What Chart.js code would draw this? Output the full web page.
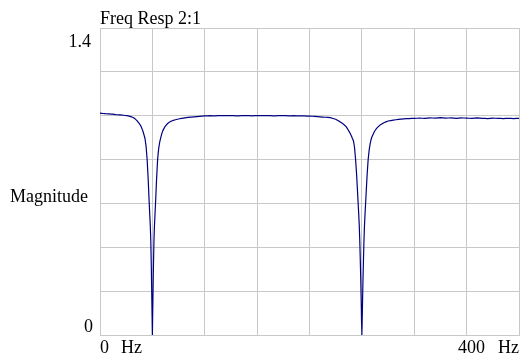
<!DOCTYPE html>
<html>
<head>
<meta charset="utf-8">
<script src="https://cdn.jsdelivr.net/npm/chart.js@4/dist/chart.umd.min.js"></script>
<style>
	html, body { margin: 0; padding: 0; background: #fff; }
	#wrap { width: 521px; height: 356px; }
</style>
</head>
<body>
<div id="wrap"><canvas id="chart-freq" width="521" height="356"></canvas></div>
<script>
/* Freq Resp 2:1 -- magnitude vs frequency, two notches */

const TITLE = "Freq Resp 2:1";
const Y_LABEL = "Magnitude";
const X_UNIT = "Hz";
const X_MIN = 0;
const X_MAX = 400;
const X_STEP = 50;
const Y_MIN = 0;
const Y_MAX = 1.4;
const Y_STEP = 0.2;

// frequency (Hz) and magnitude
const freqHz = [
	0, 3, 6, 9, 12, 15, 18, 21, 24, 27, 30, 33, 35, 36, 38, 39, 40, 41, 42, 43, 44, 45,
	46, 47, 48, 48.5, 49, 49.5, 50, 50.5, 51, 51.5, 52, 53, 54, 55, 56, 57, 58, 59, 60,
	62, 64, 67, 70, 74, 78, 84, 90, 95, 100,
	105, 110, 115, 120, 125, 130, 135, 140, 145, 150, 155, 160, 165, 170, 175, 180, 185,
	190, 195, 200, 205, 210, 215, 220, 225, 229, 232, 235, 237, 239, 240, 241, 242, 243,
	244, 245, 246, 247, 247.5, 248, 248.5, 249, 249.5, 250, 250.5, 251, 251.5, 252, 252.5,
	253, 254, 255, 256, 257, 258, 259, 260, 262, 264, 267, 271, 275, 280, 285, 290, 295, 300,
	305, 310, 315, 320, 325, 330, 335, 340, 345, 350, 355, 360, 365, 370, 375, 380, 385,
	390, 395, 400,
];
const magnitude = [
	1.012, 1.010, 1.009, 1.008, 1.007, 1.005, 1.004, 1.003, 1.001, 0.999, 0.995, 0.988, 0.979, 0.973, 0.961, 0.953, 0.942, 0.929, 0.913, 0.895, 0.86, 0.80,
	0.71, 0.60, 0.50, 0.43, 0.31, 0.16, 0, 0.16, 0.31, 0.43, 0.50, 0.60, 0.71, 0.80, 0.85, 0.88, 0.90, 0.918, 0.932,
	0.950, 0.962, 0.973, 0.979, 0.984, 0.988, 0.992, 0.995, 0.997, 0.999,
	1.000, 0.999, 1.001, 1.000, 1.001, 0.999, 1.000, 1.001, 0.999, 1.001, 1.000, 1.001, 0.999, 1.000, 1.001, 0.999, 1.000,
	0.999, 0.999, 0.998, 0.997, 0.995, 0.993, 0.991, 0.984, 0.973, 0.963, 0.950, 0.935, 0.918, 0.908, 0.896, 0.885, 0.855,
	0.80, 0.73, 0.64, 0.55, 0.50, 0.43, 0.34, 0.24, 0.12, 0, 0.12, 0.24, 0.34, 0.43, 0.50,
	0.55, 0.64, 0.73, 0.80, 0.845, 0.875, 0.895, 0.908, 0.928, 0.942, 0.956, 0.968, 0.976, 0.980, 0.983, 0.986, 0.987, 0.988,
	0.989, 0.988, 0.990, 0.989, 0.991, 0.989, 0.990, 0.988, 0.990, 0.989, 0.988, 0.990, 0.988, 0.987, 0.989, 0.988, 0.987,
	0.988, 0.987, 0.988,
];

const COLORS = {
	line: "#000080",
	grid: "#c8c8c8",
	text: "#000",
};
const FONT = "18px 'Liberation Serif', 'DejaVu Serif', serif";

// axis texts drawn next to the plot area, like the original plot
const axisText = {
	id: "axisText",
	afterDraw(chart) {
		const { ctx, chartArea: a, scales } = chart;
		const x0 = scales.x.getPixelForValue(X_MIN);
		const x1 = scales.x.getPixelForValue(X_MAX);
		ctx.save();
		ctx.fillStyle = COLORS.text;
		ctx.font = FONT;
		ctx.textBaseline = "alphabetic";

		ctx.textAlign = "left";
		ctx.fillText(TITLE, a.left, a.top - 4);
		ctx.fillText(Y_LABEL, 10, 202);

		ctx.textAlign = "right";
		ctx.fillText(String(Y_MAX), a.left - 9, a.top + 19);
		ctx.fillText(String(Y_MIN), a.left - 7, a.bottom - 3);

		const base = a.bottom + 18;
		ctx.textAlign = "left";
		ctx.fillText(String(X_MIN), x0, base);
		ctx.fillText(X_UNIT, x0 + 21, base);
		ctx.textAlign = "right";
		ctx.fillText(X_UNIT, x1, base);
		ctx.fillText(String(X_MAX), x1 - 34, base);
		ctx.restore();
	},
};

const points = freqHz.map((f, i) => ({ x: f, y: magnitude[i] }));

new Chart(document.getElementById("chart-freq"), {
	type: "line",
	data: {
		datasets: [{
			data: points,
			borderColor: COLORS.line,
			borderWidth: 1.2,
			borderJoinStyle: "round",
			pointRadius: 0,
			// tiny tension so Chart.js skips its pixel-merging fast path
			tension: 0.0001,
			fill: false,
		}],
	},
	options: {
		responsive: false,
		animation: false,
		devicePixelRatio: 1,
		layout: { padding: { left: 100, top: 28, right: 2, bottom: 21 } },
		plugins: {
			legend: { display: false },
			tooltip: { enabled: false },
		},
		scales: {
			x: {
				type: "linear",
				min: X_MIN,
				max: X_MAX,
				ticks: { display: false, stepSize: X_STEP },
				grid: { color: COLORS.grid, drawTicks: false },
				border: { color: COLORS.grid },
				afterFit: s => { s.height = 0; },
			},
			y: {
				min: Y_MIN,
				max: Y_MAX,
				ticks: { display: false, stepSize: Y_STEP },
				grid: { color: COLORS.grid, drawTicks: false },
				border: { color: COLORS.grid },
				afterFit: s => { s.width = 0; },
			},
		},
	},
	plugins: [axisText],
});
</script>
</body>
</html>
